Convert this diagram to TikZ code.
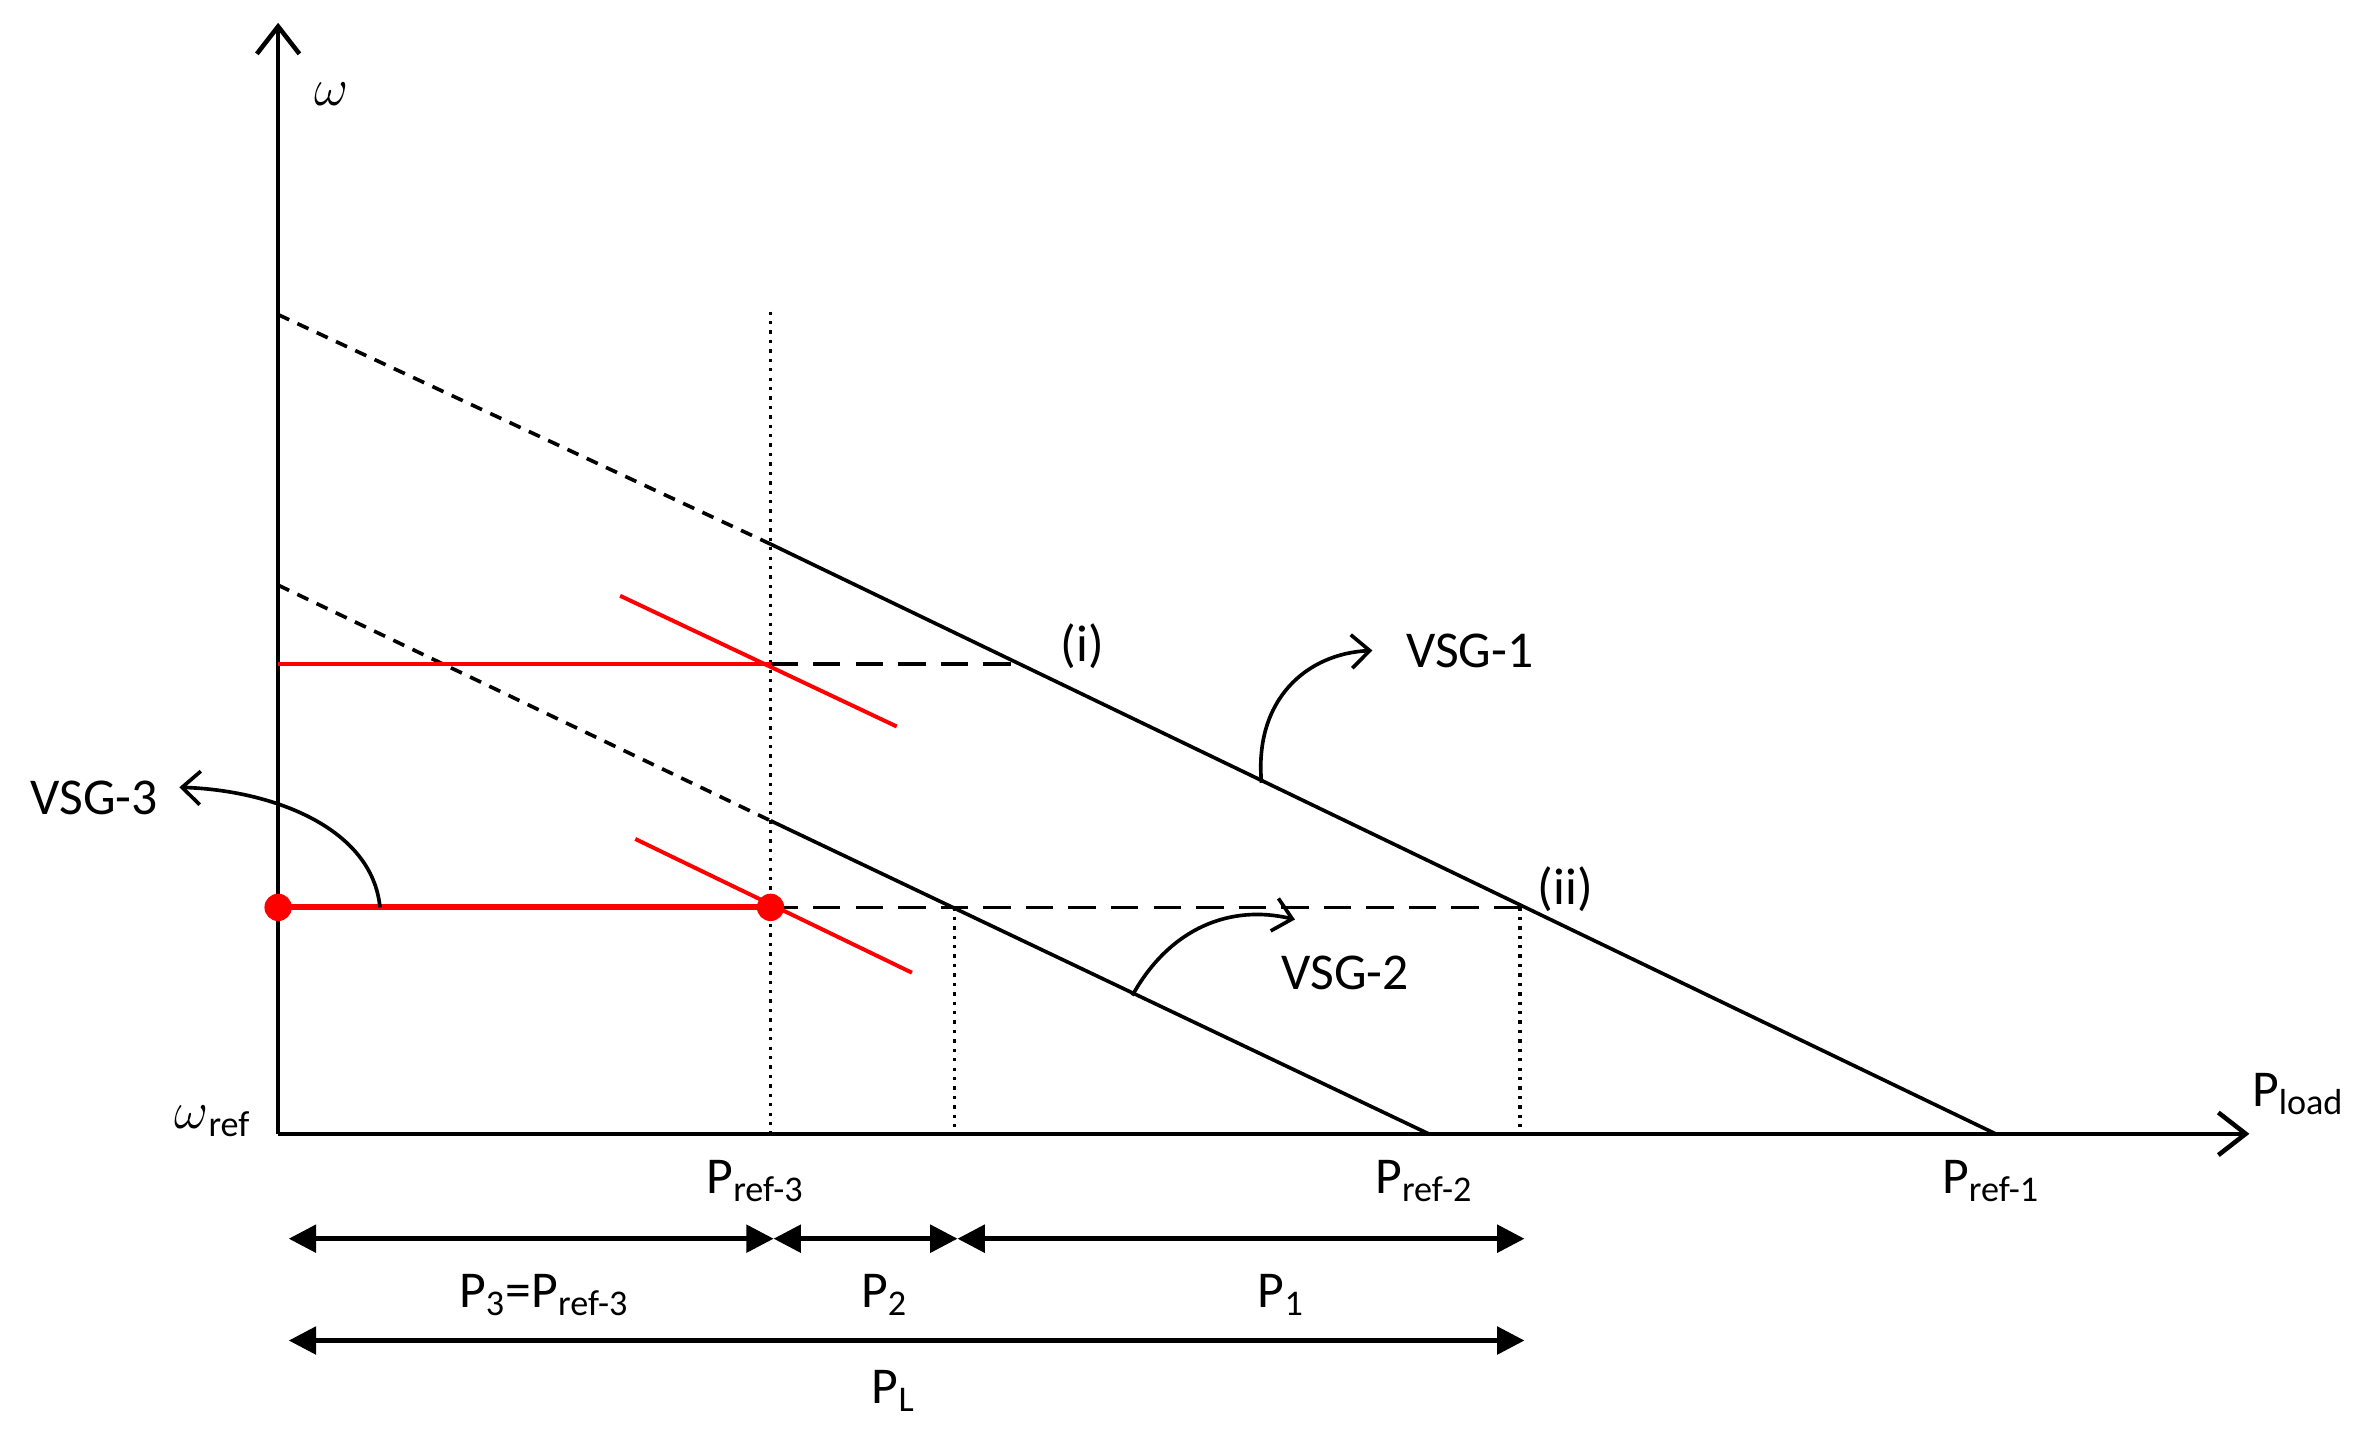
\documentclass[tikz,border=0pt]{standalone}
\usepackage{fontspec}
\setmainfont{Carlito}
\usetikzlibrary{arrows.meta}
\begin{document}
\begin{tikzpicture}[x=0.5pt,y=-0.5pt,font=\fontsize{17}{20}\selectfont,
  ax/.style={line width=1.5pt,-{Straight Barb[length=9pt,width=14pt,line width=1.5pt]}},
  droop/.style={line width=1.2pt},
  droopd/.style={line width=1.2pt,dash pattern=on 4pt off 3pt},
  hdash/.style={line width=1.2pt,dash pattern=on 9pt off 5pt},
  vdot/.style={line width=1.1pt,dotted},
  redl/.style={red,line width=1.3pt},
  redt/.style={red,line width=2pt},
  dim/.style={line width=1.5pt,{Triangle[length=9pt,width=9pt]}-{Triangle[length=9pt,width=9pt]}},
  cur/.style={line width=1.2pt,-{Straight Barb[length=6pt,width=11pt,line width=1.2pt]}},
  lbl/.style={inner sep=0pt}]
\useasboundingbox (0,0) rectangle (1560,940);
\coordinate (O) at (183,746);
\coordinate (Ytop) at (183,15);
\coordinate (Xend) at (1480,746);
\draw[ax] (O) -- (Ytop);
\draw[ax] (O) -- (Xend);
\node[lbl] (w) at (218,62) {$\omega$};
\node[lbl] (wref) at (140,738) {$\omega$\textsubscript{ref}};
\node[lbl] (pload) at (1512,720) {P\textsubscript{load}};
% droop lines
\coordinate (a1) at (183,207); \coordinate (b1) at (507,358); \coordinate (c1) at (1313,746);
\coordinate (a2) at (183,385); \coordinate (b2) at (507,540); \coordinate (c2) at (940,746);
\draw[droopd] (a1) -- (b1); \draw[droop] (b1) -- (c1);
\draw[droopd] (a2) -- (b2); \draw[droop] (b2) -- (c2);
% dotted verticals
\coordinate (v3t) at (507,205); \coordinate (v3b) at (507,746);
\coordinate (v2t) at (628,597); \coordinate (v2b) at (628,746);
\coordinate (v1t) at (1000,597); \coordinate (v1b) at (1000,746);
\draw[vdot] (v3t) -- (v3b); \draw[vdot] (v2t) -- (v2b); \draw[vdot] (v1t) -- (v1b);
% upper red
\coordinate (h1a) at (183,437); \coordinate (h1b) at (507,437); \coordinate (h1c) at (668,437);
\draw[redl] (h1a) -- (h1b);
\draw[hdash] (h1b) -- (h1c);
\coordinate (r1a) at (408,392); \coordinate (r1b) at (590,478);
\draw[redl] (r1a) -- (r1b);
% lower red
\coordinate (h2a) at (183,597); \coordinate (h2b) at (507,597); \coordinate (h2c) at (1000,597);
\draw[hdash] (h2b) -- (h2c);
\draw[redt] (h2a) -- (h2b);
\coordinate (r2a) at (418,552); \coordinate (r2b) at (600,640);
\draw[redl] (r2a) -- (r2b);
\fill[red] (h2a) circle (9); \fill[red] (h2b) circle (9);
% labels
\node[lbl] (i) at (712,425) {(i)};
\node[lbl] (ii) at (1030,585) {(ii)};
\node[lbl] (vsg1) at (967,428) {VSG-1};
\node[lbl] (vsg2) at (885,640) {VSG-2};
\node[lbl] (vsg3) at (62,525) {VSG-3};
\coordinate (s1) at (830,515); \coordinate (e1) at (903,428);
\draw[cur] (s1) .. controls (825,460) and (860,430) .. (e1);
\coordinate (s2) at (745,655); \coordinate (e2) at (852,605);
\draw[cur] (s2) .. controls (770,610) and (810,595) .. (e2);
\coordinate (s3) at (250,597); \coordinate (e3) at (118,518);
\draw[cur] (s3) .. controls (245,545) and (180,520) .. (e3);
\node[lbl] (pr3) at (497,777) {P\textsubscript{ref-3}};
\node[lbl] (pr2) at (937,777) {P\textsubscript{ref-2}};
\node[lbl] (pr1) at (1310,777) {P\textsubscript{ref-1}};
% dimension arrows
\coordinate (d0) at (190,815); \coordinate (d3) at (509,815);
\coordinate (d2) at (630,815); \coordinate (d1) at (1003,815);
\draw[dim] (d0) -- (d3); \draw[dim] (d3) -- (d2); \draw[dim] (d2) -- (d1);
\coordinate (l0) at (190,882); \coordinate (l1) at (1003,882);
\draw[dim] (l0) -- (l1);
\node[lbl] (p3) at (358,852) {P\textsubscript{3}=P\textsubscript{ref-3}};
\node[lbl] (p2) at (582,852) {P\textsubscript{2}};
\node[lbl] (p1) at (843,852) {P\textsubscript{1}};
\node[lbl] (pl) at (588,915) {P\textsubscript{L}};
\end{tikzpicture}
\end{document}
